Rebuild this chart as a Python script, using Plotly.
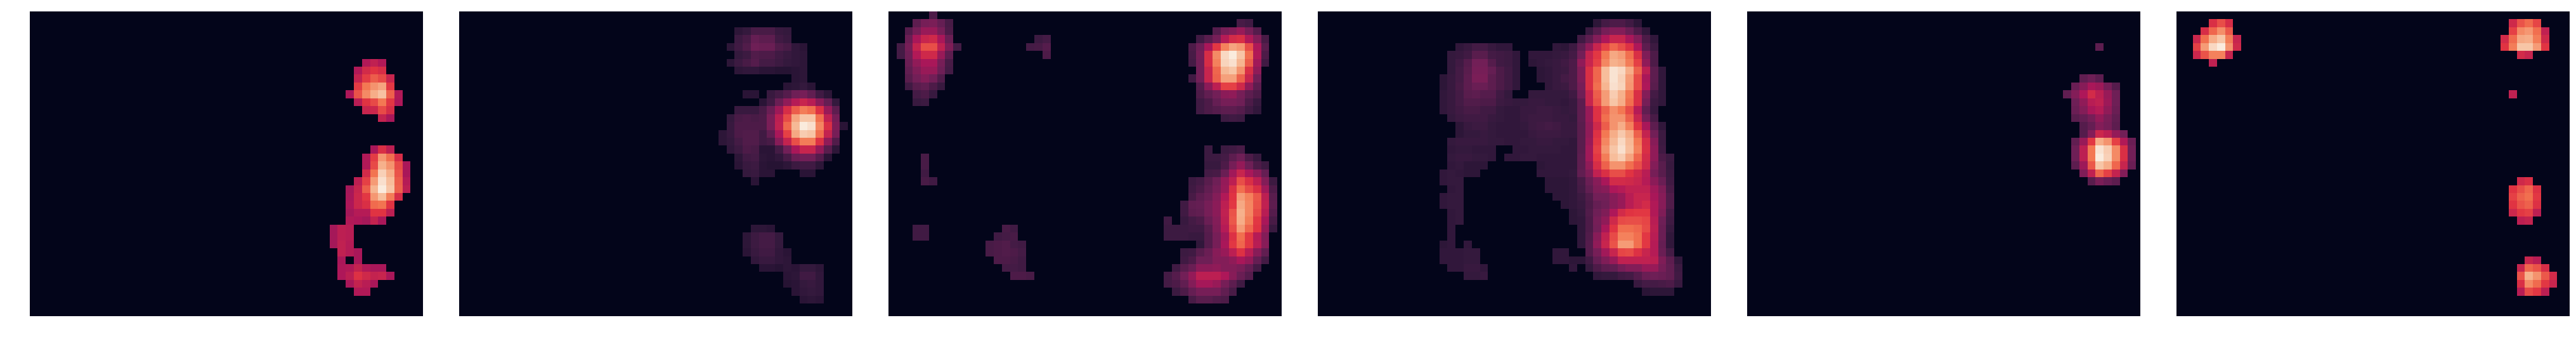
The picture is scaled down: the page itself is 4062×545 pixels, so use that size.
import plotly.graph_objects as go
import numpy as np

N_ROWS = 39
N_COLS = 49
ROCKET = ["#03051a", "#35193e", "#701f57", "#ad1759", "#e13342", "#f37651", "#f6b48f", "#faebdd"]

# Each entry: (row index, first column index, values along the row)
panel_1 = [
 (6,41,[.44,.48,.44]),(7,40,[.44,.53,.57,.54]),(8,40,[.49,.59,.66,.62,.50]),
 (9,40,[.59,.72,.78,.82,.58]),(10,39,[.43,.64,.76,.84,.89,.67,.44]),
 (11,40,[.46,.57,.62,.72,.58,.43]),(12,41,[.50,.51,.62,.54]),(13,43,[.49,.42]),
 (17,42,[.42,.55,.47]),(18,41,[.44,.59,.79,.70,.54]),(19,41,[.44,.62,.85,.78,.62,.42]),
 (20,41,[.53,.71,.93,.84,.64,.42]),(21,40,[.47,.60,.80,.97,.88,.66,.45]),
 (22,39,[.41,.50,.66,.86,1.0,.90,.67,.47]),(23,39,[.42,.51,.58,.79,.88,.73,.54]),
 (24,39,[.43,.51,.55,.69,.71,.57]),(25,39,[.41,.45,.45,.57,.57,.47]),
 (26,39,[.44,.43,.41,.49,.42]),(27,37,[.41,.47,.46]),(28,37,[.41,.47,.46]),
 (29,37,[.41,.48,.45]),(30,38,[.48,.45,.42]),(31,38,[.42]),(31,40,[.42]),
 (32,38,[.43,.44,.49,.44,.42,.42]),(33,38,[.43,.47,.56,.52,.49,.50,.42]),
 (34,39,[.42,.49,.46,.42]),(35,40,[.44,.44]),
]
panel_2 = [
 (2,34,[.12,.14,.19,.19,.19,.15,.14]),(3,34,[.16,.19,.26,.24,.24,.17,.15]),
 (4,33,[.12,.17,.21,.28,.27,.27,.21,.19,.13,.11]),(5,34,[.14,.16,.21,.2,.2,.17,.15,.13,.12]),
 (6,33,[.12,.16,.19,.22,.18,.18,.16,.14,.13,.12]),(7,34,[.12,.13,.13,.11,.11,.1,.1,.11,.12]),
 (8,41,[.11,.12]),(9,40,[.11,.12,.14,.11]),(10,35,[.11,.11]),
 (10,38,[.15,.18,.22,.28,.30,.25,.17,.12]),(11,37,[.11,.17,.27,.36,.45,.5,.46,.35,.26,.14]),
 (12,34,[.15,.15,.15,.19,.27,.39,.54,.66,.73,.70,.56,.38,.24]),
 (13,33,[.14,.19,.2,.19,.2,.31,.47,.62,.82,.90,.90,.7,.48,.3]),
 (14,33,[.15,.2,.2,.2,.2,.31,.48,.68,.87,1.0,.97,.75,.55,.32,.11]),
 (15,32,[.12,.15,.2,.21,.21,.17,.25,.42,.6,.83,.92,.9,.7,.49,.3]),
 (16,32,[.12,.14,.18,.21,.21,.17,.19,.34,.49,.63,.73,.73,.56,.36,.21]),
 (17,33,[.13,.16,.2,.19,.11,.11,.18,.29,.42,.5,.5,.37,.23,.12]),
 (18,34,[.12,.17,.18,.12,.11,.13,.19,.27,.29,.29,.22,.11]),
 (19,34,[.11,.15,.16,.11,.1,.1,.12,.16,.17,.17,.12]),
 (20,35,[.14,.15,.11,.11]),(20,42,[.11,.11]),(21,36,[.11]),
 (27,36,[.12,.12,.11]),(28,35,[.12,.16,.18,.18,.14]),(29,35,[.12,.16,.18,.18,.14]),
 (30,35,[.11,.15,.17,.17,.13,.11]),(31,36,[.13,.15,.15,.13,.12]),
 (32,37,[.11,.11,.10,.12,.11,.14,.14,.12]),(33,40,[.11,.12,.17,.17,.13]),
 (34,40,[.1,.11,.14,.15,.13]),(35,41,[.11,.13,.14,.13]),(36,42,[.11,.12,.11]),
]
panel_3 = [
 (0,5,[.2]),(1,3,[.24,.3,.31,.26,.19]),(1,43,[.19,.17]),
 (2,2,[.22,.3,.38,.38,.3,.2]),(2,40,[.22,.3,.33,.38,.3,.22]),
 (3,2,[.27,.42,.5,.52,.42,.27]),(3,18,[.16,.18]),(3,38,[.17,.23,.3,.45,.53,.55,.44,.33,.19]),
 (4,1,[.18,.3,.49,.63,.63,.48,.32,.18]),(4,17,[.18,.19,.22]),
 (4,37,[.2,.28,.42,.58,.74,.82,.79,.63,.43,.23]),
 (5,1,[.18,.28,.44,.52,.52,.38,.24]),(5,19,[.2]),(5,37,[.19,.3,.54,.76,.95,1.0,.9,.7,.44,.2]),
 (6,2,[.27,.36,.42,.42,.3,.19]),(6,37,[.18,.29,.54,.74,.94,.97,.86,.66,.4,.17]),
 (7,2,[.25,.32,.38,.38,.28,.18]),(7,38,[.29,.5,.68,.87,.9,.78,.55,.36]),
 (8,2,[.23,.29,.33,.29,.21]),(8,37,[.17,.29,.5,.67,.81,.81,.67,.5,.29]),
 (9,2,[.17,.23,.25,.2,.15]),(9,38,[.22,.35,.47,.6,.6,.52,.36,.24]),
 (10,3,[.18,.2,.15]),(10,38,[.2,.25,.29,.35,.36,.3,.24,.2]),
 (11,3,[.15,.16]),(11,38,[.17,.2,.26,.3,.3,.28,.2,.15]),
 (12,38,[.17,.2,.22,.24,.24,.22,.17,.13]),(13,41,[.16,.17,.16]),
 (17,39,[.16]),(17,41,[.16,.17,.19]),(18,4,[.19]),(18,39,[.16,.16,.18,.24,.28,.2,.15]),
 (19,4,[.19]),(19,39,[.15,.15,.2,.3,.37,.28,.2,.16]),
 (20,4,[.17]),(20,39,[.18,.19,.27,.4,.5,.42,.35,.26]),
 (21,4,[.19,.17]),(21,37,[.16,.18,.23,.28,.37,.47,.63,.55,.47,.33,.16]),
 (22,37,[.17,.2,.25,.3,.38,.55,.7,.62,.55,.4,.2]),
 (23,37,[.19,.24,.27,.33,.44,.57,.8,.74,.65,.47,.23]),
 (24,36,[.17,.25,.26,.3,.35,.47,.58,.83,.75,.64,.48,.24]),
 (25,36,[.17,.24,.25,.3,.35,.48,.64,.85,.75,.62,.46,.22]),
 (26,34,[.17]),(26,36,[.15,.18,.2,.27,.33,.47,.65,.84,.73,.58,.42,.19]),
 (27,3,[.17,.17]),(27,14,[.19,.17]),(27,34,[.16,.16,.16,.17,.17,.23,.32,.45,.62,.8,.68,.57,.38,.15]),
 (28,3,[.17,.17]),(28,13,[.17,.18,.19]),(28,34,[.16,.16,.16,.15,.15,.22,.3,.4,.56,.7,.58,.45,.33]),
 (29,12,[.19,.2,.21,.18,.17]),(29,38,[.13,.22,.3,.42,.58,.68,.58,.46,.34]),
 (30,12,[.19,.2,.21,.2,.18]),(30,36,[.16,.17,.23,.27,.34,.38,.47,.56,.46,.34,.25]),
 (31,13,[.2,.2,.19,.17]),(31,36,[.17,.2,.28,.28,.33,.33,.36,.42,.37,.26,.18]),
 (32,14,[.18,.18,.17]),(32,35,[.17,.23,.27,.35,.35,.36,.33,.33,.31,.26,.18]),
 (33,15,[.2,.2,.19]),(33,34,[.18,.22,.29,.37,.47,.47,.47,.43,.34,.27,.22]),
 (34,34,[.18,.2,.25,.33,.41,.41,.38,.3,.24,.17]),
 (35,35,[.16,.2,.26,.3,.3,.3,.25,.19]),(36,37,[.19,.23,.23,.21,.2]),
]
panel_4 = [
 (1,34,[.12,.18,.2,.2,.17,.12]),(2,33,[.15,.22,.3,.33,.33,.27,.2,.13]),
 (3,32,[.17,.24,.33,.43,.5,.5,.42,.33,.2,.13]),
 (4,17,[.13,.15,.18,.18,.15,.13,.13]),(4,29,[.13,.12,.16,.25,.36,.5,.6,.68,.63,.56,.43,.24,.16]),
 (5,16,[.14,.15,.17,.23,.23,.18,.17,.16,.13]),(5,26,[.13,.13,.13,.14,.15,.18,.29,.49,.58,.72,.83,.8,.7,.55,.32,.2]),
 (6,16,[.14,.17,.22,.29,.29,.22,.17,.16,.13]),(6,26,[.12,.13,.14,.15,.17,.2,.36,.5,.6,.75,.85,.83,.73,.6,.36,.2]),
 (7,16,[.14,.18,.23,.3,.3,.26,.2,.17,.13]),(7,27,[.12,.13,.15,.16,.2,.32,.55,.68,.88,.98,.95,.84,.67,.47,.24,.13]),
 (8,15,[.12,.15,.18,.24,.31,.31,.24,.2,.17,.13]),(8,27,[.12,.13,.15,.18,.2,.32,.55,.68,.88,.98,.93,.8,.62,.42,.24,.13]),
 (9,15,[.12,.15,.19,.24,.27,.27,.24,.2,.17,.13]),(9,28,[.13,.15,.16,.2,.3,.55,.7,.86,.97,.94,.79,.62,.43,.23,.13]),
 (10,15,[.13,.15,.18,.23,.24,.22,.22,.17,.14]),(10,26,[.14,.14,.14,.14,.14,.17,.28,.5,.66,.8,.92,.85,.72,.55,.33,.18,.13]),
 (11,15,[.13,.15,.18,.21,.21,.2,.2,.16,.15,.14,.14,.15,.15,.14,.14,.13,.15,.24,.5,.64,.8,.9,.84,.7,.55,.3,.16,.13]),
 (12,15,[.13,.15,.17,.19,.19,.17,.17,.14,.13,.13,.15,.15,.16,.16,.15,.14,.15,.24,.38,.56,.67,.77,.72,.62,.45,.25,.15]),
 (13,16,[.14,.16,.17,.17,.17,.15,.14,.13,.13,.15,.16,.16,.16,.15,.15,.14,.24,.38,.56,.7,.78,.78,.67,.5,.3,.19]),
 (14,17,[.12,.15,.16,.16,.14,.13,.13,.13,.14,.16,.17,.18,.17,.15,.15,.23,.36,.52,.66,.78,.84,.74,.57,.42,.24,.13]),
 (15,17,[.12,.14,.14,.15,.14,.13,.13,.13,.13,.15,.16,.16,.16,.15,.15,.23,.36,.56,.72,.84,.91,.84,.67,.49,.29,.16]),
 (16,16,[.14,.15,.15,.15,.15,.14,.14,.13,.13,.14,.14,.15,.15,.14,.14,.13,.23,.38,.58,.75,.87,.95,.87,.72,.54,.34,.16]),
 (17,16,[.13,.14,.14,.13,.13,.13]),(17,24,[.13,.13,.14,.14,.14,.14,.13,.13,.23,.4,.6,.78,.9,.97,.88,.74,.55,.36,.17]),
 (18,16,[.14,.15,.15,.14,.14,.13]),(18,23,[.13,.13,.14,.14,.13,.13,.13,.13,.13,.24,.4,.58,.73,.88,.92,.82,.68,.53,.36,.2,.16]),
 (19,16,[.13,.14,.12,.12,.12]),(19,27,[.12,.13,.13,.13,.13,.24,.36,.54,.67,.78,.78,.7,.63,.52,.33,.23,.15]),
 (20,15,[.13,.14,.13,.12,.12]),(20,27,[.13,.13,.13,.13,.14,.25,.32,.48,.55,.63,.63,.57,.52,.46,.3,.23,.16]),
 (21,15,[.13,.14,.14]),(21,28,[.12,.12,.12,.13,.19,.27,.34,.42,.53,.53,.52,.5,.45,.35,.27,.17]),
 (22,16,[.13,.14]),(22,28,[.12,.12,.12,.13,.18,.25,.32,.34,.43,.45,.48,.48,.48,.4,.32,.19]),
 (23,15,[.13,.14,.14]),(23,29,[.12,.12,.13,.16,.21,.29,.29,.34,.38,.46,.5,.5,.42,.34,.21]),
 (24,15,[.13,.14,.14]),(24,30,[.12,.13,.15,.2,.26,.28,.34,.38,.46,.5,.53,.44,.34,.21]),
 (25,16,[.13,.14]),(25,31,[.12,.14,.21,.28,.32,.43,.53,.57,.58,.58,.44,.32,.18]),
 (26,16,[.13,.14]),(26,31,[.12,.13,.2,.3,.36,.52,.62,.63,.63,.61,.46,.28,.17]),
 (27,16,[.13]),(27,32,[.13,.2,.29,.42,.57,.7,.7,.68,.62,.47,.27,.15]),
 (28,16,[.13]),(28,32,[.13,.21,.34,.48,.62,.74,.74,.7,.58,.46,.27,.13]),
 (29,15,[.12,.13]),(29,18,[.13]),(29,32,[.13,.22,.36,.5,.64,.8,.8,.7,.58,.45,.26,.13]),
 (30,15,[.13,.13,.13,.14,.14]),(30,29,[.13,.13]),(30,33,[.22,.3,.4,.5,.61,.62,.56,.5,.45,.27,.18]),
 (31,15,[.13,.13,.13,.14,.14]),(31,29,[.13,.13,.12,.12,.17,.26,.32,.38,.48,.48,.48,.48,.47,.32,.24,.13]),
 (32,16,[.13,.13,.15,.15,.13]),(32,31,[.13]),(32,33,[.14,.2,.24,.25,.3,.33,.33,.38,.38,.3,.25,.16]),
 (33,18,[.14,.14,.15]),(33,34,[.13,.14,.14,.17,.18,.22,.27,.28,.27,.25,.17]),
 (34,39,[.15,.18,.18,.19,.2,.15]),(35,40,[.11,.12,.12,.12]),
]
panel_5 = [
 (4,43,[.24]),(8,41,[.25,.28,.24]),(9,40,[.27,.34,.42,.39,.3,.22]),
 (10,39,[.25,.33,.43,.53,.47,.38,.28]),(11,40,[.28,.36,.46,.48,.39,.28]),
 (12,40,[.27,.33,.42,.45,.36,.27]),(13,40,[.23,.26,.3,.37,.31,.25]),
 (14,41,[.22,.26,.33,.3,.24]),(15,41,[.22,.33,.51,.47,.37,.29]),
 (16,40,[.25,.38,.58,.84,.78,.6,.44,.27]),(17,40,[.28,.47,.72,.98,.92,.76,.55,.29]),
 (18,40,[.28,.47,.72,1.0,.93,.76,.55,.29]),(19,40,[.24,.39,.65,.9,.84,.68,.5,.27]),
 (20,41,[.32,.48,.68,.6,.49,.33]),(21,42,[.23,.31,.27,.24]),
]
panel_6 = [
 (1,4,[.55,.63,.54]),(1,41,[.52,.64,.69,.61]),(2,3,[.54,.68,.77,.65]),(2,41,[.6,.76,.79,.7,.48]),
 (3,2,[.51,.7,.84,.9,.73,.5]),(3,40,[.53,.69,.83,.84,.73,.52]),
 (4,2,[.6,.8,.95,1.0,.78,.52]),(4,40,[.57,.73,.9,.9,.8,.57]),
 (5,2,[.51,.64,.74,.74,.5]),(5,42,[.53,.5]),(6,4,[.48]),(10,41,[.48]),
 (21,42,[.52,.55]),(22,41,[.57,.63,.68,.56]),(23,41,[.6,.67,.7,.58]),
 (24,41,[.57,.64,.67,.56]),(25,41,[.51,.58,.6,.47]),(26,42,[.47,.49]),
 (31,43,[.5,.46]),(32,42,[.5,.68,.64,.54]),(33,42,[.64,.85,.78,.65,.53]),
 (34,42,[.55,.76,.69,.58,.5]),(35,42,[.46,.62,.58,.47]),
]
PANELS = [panel_1, panel_2, panel_3, panel_4, panel_5, panel_6]

W, H = 4062, 545
LEFT0, PANEL_W, PERIOD = 47, 620, 677
TOP, BOTTOM = 18, 498

colorscale = [[i / (len(ROCKET) - 1), c] for i, c in enumerate(ROCKET)]

fig = go.Figure()
layout = dict(
    width=W, height=H, margin=dict(l=0, r=0, t=0, b=0), autosize=False,
    paper_bgcolor="white", plot_bgcolor="white", showlegend=False,
)
for i, segs in enumerate(PANELS):
    z = np.zeros((N_ROWS, N_COLS))
    for r, c, vals in segs:
        z[r, c:c + len(vals)] = vals
    xa = "x" if i == 0 else f"x{i+1}"
    ya = "y" if i == 0 else f"y{i+1}"
    fig.add_trace(go.Heatmap(z=z, zmin=0, zmax=1, colorscale=colorscale, showscale=False,
                             xaxis=xa, yaxis=ya, hoverinfo="skip", zsmooth=False))
    x0 = (LEFT0 + i * PERIOD) / W
    x1 = (LEFT0 + i * PERIOD + PANEL_W) / W
    layout["xaxis" if i == 0 else f"xaxis{i+1}"] = dict(
        domain=[x0, x1], range=[-0.5, 48.0], visible=False, anchor=ya, fixedrange=True)
    layout["yaxis" if i == 0 else f"yaxis{i+1}"] = dict(
        domain=[1 - BOTTOM / H, 1 - TOP / H], range=[38.1, -0.5], visible=False, anchor=xa, fixedrange=True)
fig.update_layout(**layout)
fig.write_html("out.html", config={"displayModeBar": False},
               post_script="document.body.style.margin='0';document.body.style.overflow='hidden';")
